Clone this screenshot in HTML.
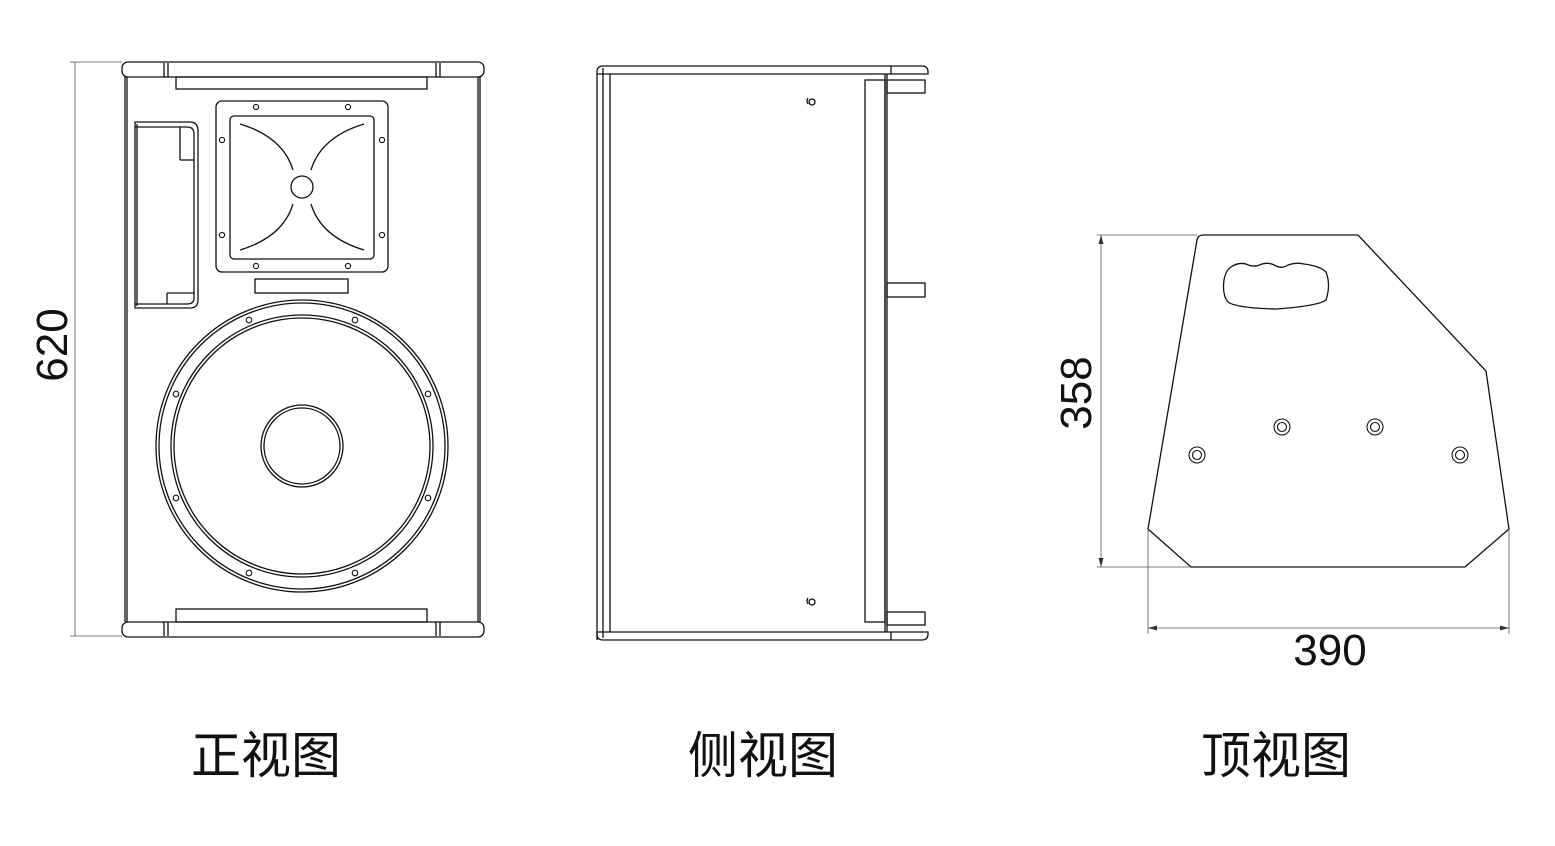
<!DOCTYPE html>
<html><head><meta charset="utf-8"><style>
html,body{margin:0;padding:0;background:#fff;width:1555px;height:846px;overflow:hidden}
svg{display:block}
text{font-family:"Liberation Sans","Noto Sans CJK SC",sans-serif;fill:#111}
</style></head><body>
<svg width="1555" height="846" viewBox="0 0 1555 846" xmlns="http://www.w3.org/2000/svg">
<g fill="none" stroke="#111" stroke-width="1.3">
<!-- FRONT VIEW -->
<rect x="122" y="62" width="362" height="15" rx="6"/>
<line x1="164" y1="63" x2="164" y2="77"/><line x1="168" y1="63" x2="168" y2="77"/>
<line x1="436" y1="63" x2="436" y2="77"/><line x1="440" y1="63" x2="440" y2="77"/>
<line x1="125" y1="77" x2="125" y2="622"/><line x1="127" y1="77" x2="127" y2="622"/>
<line x1="480" y1="77" x2="480" y2="622"/><line x1="478" y1="77" x2="478" y2="622"/>
<rect x="176" y="77" width="251" height="12"/>
<rect x="176" y="609" width="251" height="13"/>
<rect x="122" y="622" width="362" height="15" rx="6"/>
<line x1="164" y1="622" x2="164" y2="636"/><line x1="168" y1="622" x2="168" y2="636"/>
<line x1="436" y1="622" x2="436" y2="636"/><line x1="440" y1="622" x2="440" y2="636"/>
<!-- handle -->
<path d="M135 122 H190 Q198 122 198 131 V300 Q198 308 190 308 H135 Z"/>
<line x1="137" y1="124" x2="137" y2="306"/>
<path d="M135 127 H187 Q194 127 194 134 V298 Q194 304 187 304 H135"/>
<line x1="180" y1="127" x2="180" y2="160"/><line x1="180" y1="160" x2="194" y2="160"/>
<line x1="167" y1="293" x2="167" y2="304"/><line x1="167" y1="293" x2="194" y2="293"/>
<!-- horn -->
<rect x="216" y="101" width="172" height="171" rx="6"/>
<rect x="230" y="116" width="144" height="143" rx="4"/>
<circle cx="302" cy="187" r="11"/>
<path d="M240 124 Q283 137 293 170"/><path d="M364 124 Q321 137 311 170"/>
<path d="M240 250 Q283 237 293 204"/><path d="M364 250 Q321 237 311 204"/>
<g stroke-width="1.1">
<circle cx="256" cy="107" r="2.6"/><circle cx="348" cy="107" r="2.6"/>
<circle cx="222" cy="140" r="2.6"/><circle cx="382" cy="140" r="2.6"/>
<circle cx="222" cy="235" r="2.6"/><circle cx="382" cy="235" r="2.6"/>
<circle cx="256" cy="266" r="2.6"/><circle cx="348" cy="266" r="2.6"/>
</g>
<rect x="255" y="279" width="93" height="14"/>
<!-- woofer -->
<circle cx="302" cy="446" r="146"/>
<circle cx="302" cy="446" r="143"/>
<circle cx="302" cy="446" r="131"/>
<circle cx="302" cy="446" r="128"/>
<circle cx="302" cy="446" r="41"/>
<circle cx="302" cy="446" r="38"/>
<g stroke-width="1.1">
<circle cx="249" cy="320" r="2.8"/><circle cx="355" cy="320" r="2.8"/>
<circle cx="176" cy="394" r="2.8"/><circle cx="428" cy="394" r="2.8"/>
<circle cx="176" cy="498" r="2.8"/><circle cx="428" cy="498" r="2.8"/>
<circle cx="249" cy="573" r="2.8"/><circle cx="355" cy="573" r="2.8"/>
</g>
<!-- 620 dim -->
<g stroke="#555" stroke-width="0.8">
<line x1="75" y1="62" x2="75" y2="636"/>
<line x1="70" y1="62" x2="122" y2="62"/><line x1="70" y1="636" x2="122" y2="636"/>
</g>
<!-- SIDE VIEW -->
<path d="M597 640 V72 Q597 66 603 66 H922 Q928 66 928 72 V74 H887"/>
<line x1="597" y1="74" x2="887" y2="74"/>
<line x1="603" y1="68" x2="603" y2="638"/><line x1="610" y1="74" x2="610" y2="632"/>
<path d="M597 632 V634 Q597 640 603 640 H922 Q928 640 928 634 V632 H597"/>
<line x1="887" y1="74" x2="887" y2="632"/><line x1="885" y1="74" x2="885" y2="632"/>
<line x1="891" y1="66" x2="891" y2="74"/><line x1="891" y1="632" x2="891" y2="640"/>
<rect x="865" y="80" width="20" height="542"/>
<rect x="887" y="80" width="38" height="13"/>
<rect x="887" y="283" width="38" height="14"/>
<rect x="887" y="612" width="38" height="13"/>
<circle cx="812" cy="102" r="3"/><path d="M808 98 Q806 101 808 104" />
<circle cx="812" cy="602" r="3"/><path d="M808 598 Q806 601 808 604"/>
<!-- TOP VIEW -->
<path d="M1197 240 Q1198 235 1203 235 H1358 L1486 371 L1509 529 L1465 567 H1191 L1148 529 Z"/>
<path d="M1231 267 Q1238 262 1246 264 Q1254 268 1262 264 Q1270 262 1276 266 Q1282 269 1288 265 Q1296 262 1304 264 Q1320 266 1326 272 Q1331 285 1326 300 Q1318 306 1276 309 Q1236 308 1228 302 Q1222 295 1224 280 Q1226 270 1231 267 Z"/>
<g stroke-width="1.1">
<circle cx="1197" cy="455" r="8"/><circle cx="1197" cy="455" r="4.5"/>
<circle cx="1282" cy="427" r="8"/><circle cx="1282" cy="427" r="4.5"/>
<circle cx="1375" cy="427" r="8"/><circle cx="1375" cy="427" r="4.5"/>
<circle cx="1460" cy="455" r="8"/><circle cx="1460" cy="455" r="4.5"/>
</g>
<g stroke="#555" stroke-width="0.8">
<line x1="1101" y1="235" x2="1101" y2="567"/>
<line x1="1097" y1="235" x2="1197" y2="235"/><line x1="1097" y1="567" x2="1191" y2="567"/>
<line x1="1148" y1="529" x2="1148" y2="634"/><line x1="1509" y1="529" x2="1509" y2="634"/>
<line x1="1148" y1="628" x2="1509" y2="628"/>
</g>
</g>
<g fill="#333">
<path d="M1101 235 l-2.5 9 h5 z"/><path d="M1101 567 l-2.5 -9 h5 z"/>
<path d="M1148 628 l9 -2.5 v5 z"/><path d="M1509 628 l-9 -2.5 v5 z"/>
</g>
<text x="0" y="0" font-size="44" text-anchor="middle" transform="translate(67,345) rotate(-90)">620</text>
<text x="0" y="0" font-size="44" text-anchor="middle" transform="translate(1091,393) rotate(-90)">358</text>
<text x="1330" y="665" font-size="44" text-anchor="middle">390</text>
<text x="266" y="773" font-size="50" text-anchor="middle">正视图</text>
<text x="763" y="773" font-size="50" text-anchor="middle">侧视图</text>
<text x="1276" y="773" font-size="50" text-anchor="middle">顶视图</text>
</svg>
</body></html>
